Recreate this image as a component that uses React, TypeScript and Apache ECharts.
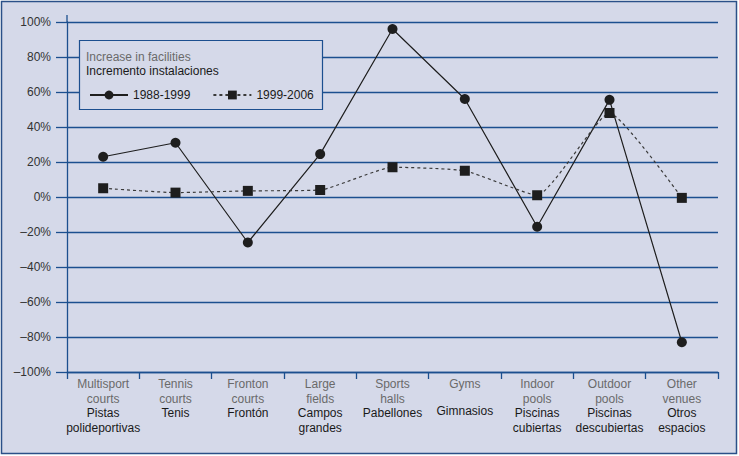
import React, { useEffect, useRef } from "react";
import * as echarts from "echarts";

const englishNames = ["Multisport\ncourts", "Tennis\ncourts", "Fronton\ncourts", "Large\nfields", "Sports\nhalls", "Gyms\n", "Indoor\npools", "Outdoor\npools", "Other\nvenues"];
const spanishNames = ["Pistas\npolideportivas", "Tenis\n", "Frontón\n", "Campos\ngrandes", "Pabellones\n", "Gimnasios\n", "Piscinas\ncubiertas", "Piscinas\ndescubiertas", "Otros\nespacios"];
const series1988 = [23, 31, -26, 24.5, 96, 56, -17, 55.5, -83];
const series1999 = [5, 2.5, 3.5, 4, 17, 15, 1, 48, -0.5];
const seriesNames = ["1988-1999", "1999-2006"];
const legendTitleEn = "Increase in facilities";
const legendTitleEs = "Incremento instalaciones";

const FONT = "Liberation Sans";
const BLUE = "#1c4f8f";

export default function App() {
  const ref = useRef<HTMLDivElement>(null);
  useEffect(() => {
    document.body.style.margin = "0";
    const chart = echarts.init(ref.current!, null, { renderer: "svg" });
    const categories = englishNames.map((_, i) => String(i));
    chart.setOption({
      animation: false,
      backgroundColor: "#ffffff",
      textStyle: { fontFamily: FONT },
      graphic: [
        {
          type: "rect",
          z: -10,
          shape: { x: 1.5, y: 1.5, width: 735, height: 452 },
          style: { fill: "#d5d9e9", stroke: "#2a5088", lineWidth: 1.5 },
        },
        {
          type: "line",
          z: 1,
          shape: { x1: 67, y1: 15, x2: 67, y2: 22 },
          style: { stroke: BLUE, lineWidth: 1.3 },
        },
        {
          type: "rect",
          z: 5,
          shape: { x: 79.5, y: 40.5, width: 243, height: 69 },
          style: { fill: "#d5d9e9", stroke: BLUE, lineWidth: 1.2 },
        },
        {
          type: "text",
          z: 6,
          x: 86,
          y: 51,
          style: { text: legendTitleEn, fill: "#6a6a6a", font: `12px "${FONT}"` },
        },
        {
          type: "text",
          z: 6,
          x: 86,
          y: 65,
          style: { text: legendTitleEs, fill: "#1a1a1a", font: `12px "${FONT}"` },
        },
      ],
      legend: {
        z: 7,
        left: 84,
        top: 84,
        itemWidth: 38,
        itemHeight: 11,
        itemGap: 22,
        data: seriesNames,
        textStyle: { fontFamily: FONT, fontSize: 12, color: "#1a1a1a" },
      },
      grid: { left: 67, right: 21, top: 22, bottom: 84 },
      xAxis: {
        type: "category",
        data: categories,
        boundaryGap: true,
        axisLine: { show: true, onZero: false, lineStyle: { color: BLUE, width: 1.3 } },
        axisTick: { show: true, length: 7, lineStyle: { color: BLUE, width: 1.3 } },
        axisLabel: {
          interval: 0,
          margin: 5,
          formatter: (v: string) => {
            const i = Number(v);
            return `{en|${englishNames[i]}}\n{es|${spanishNames[i]}}`;
          },
          rich: {
            en: { fontFamily: FONT, fontSize: 12, color: "#6a6a6a", lineHeight: 14.5, align: "center" },
            es: { fontFamily: FONT, fontSize: 12, color: "#1a1a1a", lineHeight: 14.5, align: "center" },
          },
        },
      },
      yAxis: {
        type: "value",
        min: -100,
        max: 100,
        interval: 20,
        axisLine: { show: true, lineStyle: { color: BLUE, width: 1.3 } },
        axisTick: { show: true, length: 11, lineStyle: { color: BLUE, width: 1.3 } },
        splitLine: { show: true, lineStyle: { color: BLUE, width: 1.3 } },
        axisLabel: {
          margin: 16,
          fontFamily: FONT,
          fontSize: 12,
          color: "#333333",
          formatter: (v: number) => (v < 0 ? `–${Math.abs(v)}%` : `${v}%`),
        },
      },
      series: [
        {
          name: seriesNames[0],
          type: "line",
          data: series1988,
          symbol: "circle",
          symbolSize: 10,
          z: 3,
          lineStyle: { color: "#1e1e1e", width: 1.2 },
          itemStyle: { color: "#1e1e1e" },
        },
        {
          name: seriesNames[1],
          type: "line",
          data: series1999,
          symbol: "rect",
          symbolSize: 10,
          smooth: 0.15,
          z: 4,
          lineStyle: { color: "#3a3a3a", width: 1.2, type: [3, 3] },
          itemStyle: { color: "#1e1e1e" },
        },
      ],
    });
    return () => chart.dispose();
  }, []);
  return <div ref={ref} style={{ width: 739, height: 456 }} />;
}
